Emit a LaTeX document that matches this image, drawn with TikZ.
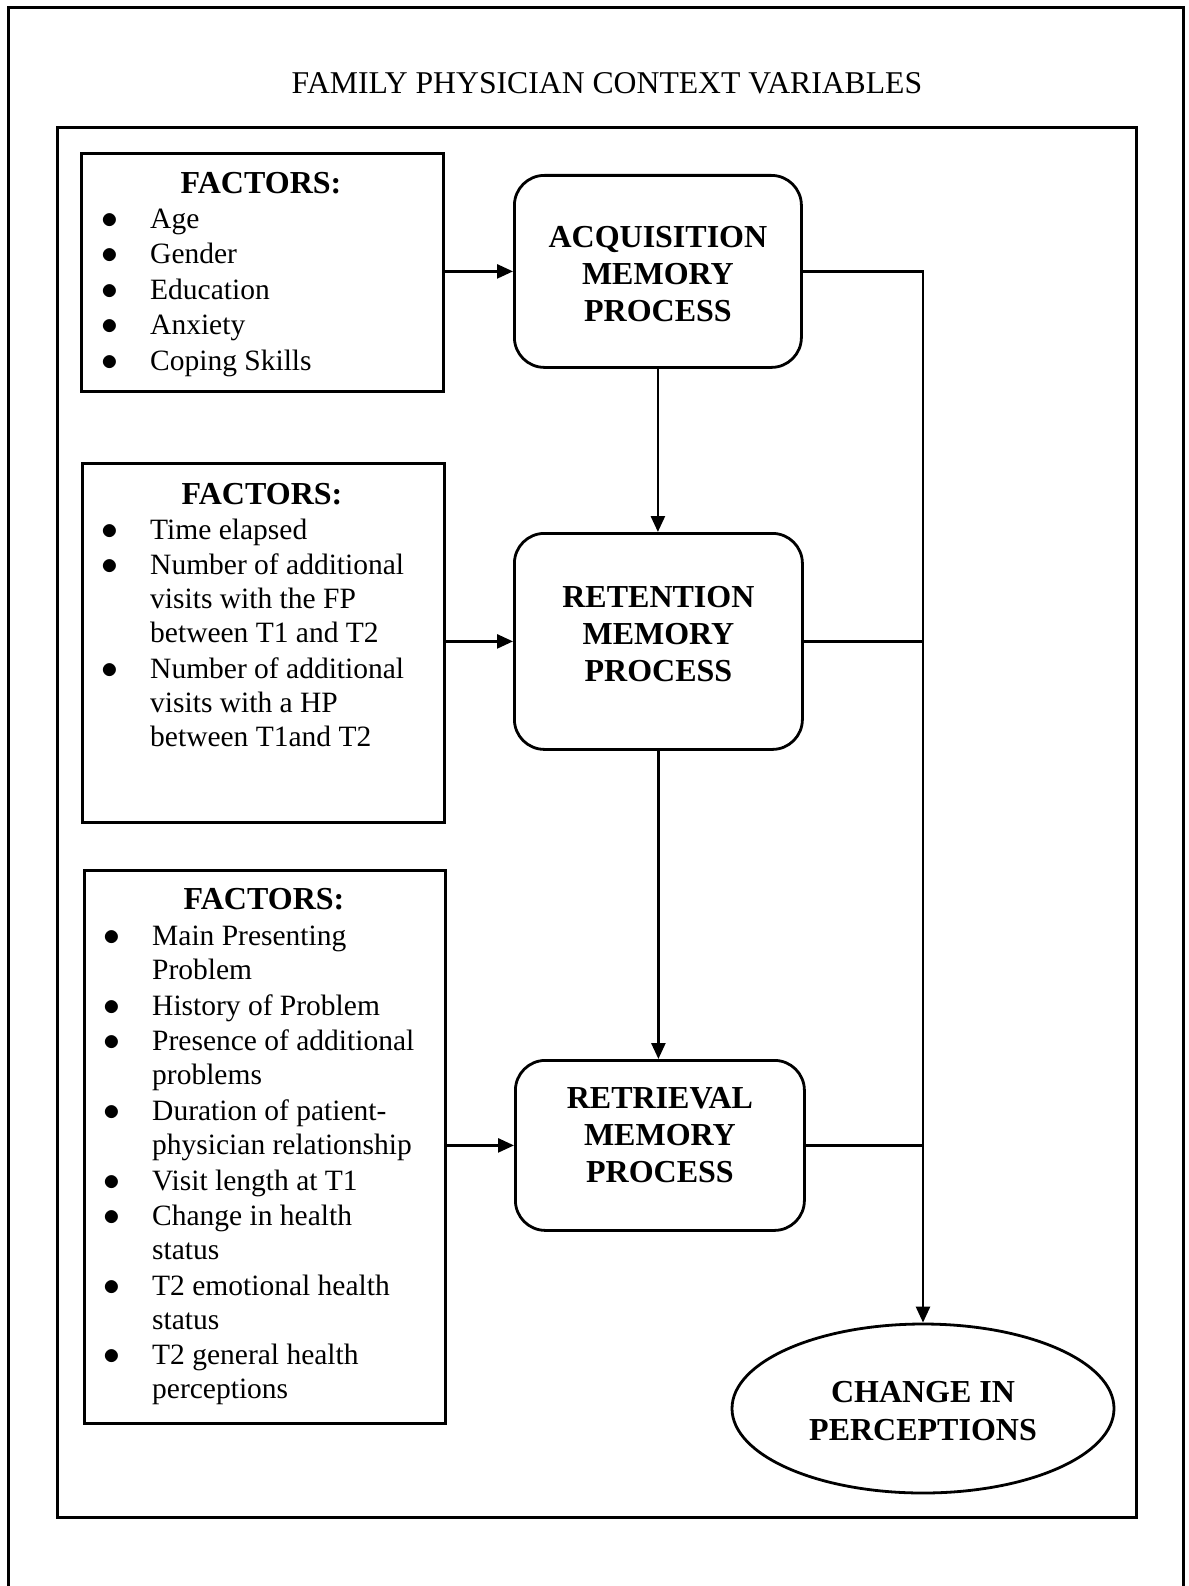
\documentclass[tikz,border=0pt]{standalone}
\usepackage{fontspec}
\setmainfont{Liberation Serif}
\usetikzlibrary{arrows.meta,shapes.geometric}
% list bullet, a little larger than the plain math bullet
\newcommand{\itembullet}{\scalebox{1.35}{$\bullet$}}
\begin{document}
\begin{tikzpicture}[x=1pt,y=-1pt,
  frameline/.style={line width=3pt},
  factorbox/.style={draw, line width=2.9pt, inner sep=0pt, anchor=north west},
  heading/.style={font=\fontsize{32}{37}\selectfont\bfseries, inner sep=0pt, anchor=base},
  itemlist/.style={font=\fontsize{29.5}{34}\selectfont, inner sep=0pt, anchor=base west},
  process/.style={draw, rounded corners=30pt, line width=2.8pt, inner sep=0pt, anchor=north west},
  proclabel/.style={align=center, inner sep=0pt, font=\fontsize{32}{37}\selectfont\bfseries},
  outcome/.style={draw, ellipse, line width=2.8pt, align=center, inner sep=0pt,
    font=\fontsize{32}{38}\selectfont\bfseries},
  conn/.style={line width=2.6pt},
  arr/.style={conn, -{Triangle[length=16pt,width=14pt]}},
]
\useasboundingbox (0,0) rectangle (1188,1586);

% outer page frame (open at the bottom) and inner context frame
\draw[frameline] (8,1586) -- (8,8) -- (1183,8) -- (1183,1586);
\draw[frameline] (57,128) rectangle (1136,1517);
\node[font=\fontsize{31.7}{36}\selectfont, inner sep=0pt, anchor=base] (title) at (607,94)
  {FAMILY PHYSICIAN CONTEXT VARIABLES};

% factor boxes
\node[factorbox, minimum width=362pt, minimum height=238pt] (f1) at (80,152) {};
\node[factorbox, minimum width=362pt, minimum height=359pt] (f2) at (81,462) {};
\node[factorbox, minimum width=361pt, minimum height=553pt] (f3) at (83,869) {};

\node[heading] (h1) at (261,194) {FACTORS:};
\node[heading] (h2) at (262,504.5) {FACTORS:};
\node[heading] (h3) at (264,909) {FACTORS:};

\node[itemlist] (l1) at (101,228.5) {%
  \begin{tabular}[t]{@{}p{49pt}@{}l@{}}
  \itembullet & Age\\[1.5pt]
  \itembullet & Gender\\[1.5pt]
  \itembullet & Education\\[1.5pt]
  \itembullet & Anxiety\\[1.5pt]
  \itembullet & Coping Skills
  \end{tabular}};

\node[itemlist] (l2) at (101,539) {%
  \begin{tabular}[t]{@{}p{49pt}@{}l@{}}
  \itembullet & Time elapsed\\[1.5pt]
  \itembullet & Number of additional\\
              & visits with the FP\\
              & between T1 and T2\\[1.5pt]
  \itembullet & Number of additional\\
              & visits with a HP\\
              & between T1and T2
  \end{tabular}};

\node[itemlist] (l3) at (103,945.6) {%
  \begin{tabular}[t]{@{}p{49pt}@{}l@{}}
  \itembullet & Main Presenting\\
              & Problem\\[1.8pt]
  \itembullet & History of Problem\\[1.5pt]
  \itembullet & Presence of additional\\
              & problems\\[1.8pt]
  \itembullet & Duration of patient-\\
              & physician relationship\\[1.5pt]
  \itembullet & Visit length at T1\\[1.5pt]
  \itembullet & Change in health\\
              & status\\[1.5pt]
  \itembullet & T2 emotional health\\
              & status\\[1.5pt]
  \itembullet & T2 general health\\
              & perceptions
  \end{tabular}};

% memory processes
\node[process, minimum width=287pt, minimum height=192pt] (acq) at (513,174) {};
\node[process, minimum width=288pt, minimum height=216pt] (ret) at (513,532) {};
\node[process, minimum width=289pt, minimum height=170pt] (rtv) at (514,1059) {};
\node[proclabel] (acqtext) at ([yshift=-3pt]acq.center) {ACQUISITION\\MEMORY\\PROCESS};
\node[proclabel] (rettext) at ([yshift=7pt]ret.center) {RETENTION\\MEMORY\\PROCESS};
\node[proclabel] (rtvtext) at ([yshift=10pt]rtv.center) {RETRIEVAL\\MEMORY\\PROCESS};

% outcome
\node[outcome, minimum width=382pt, minimum height=169pt] (chg) at (923,1408.5) {};
\node[proclabel, font=\fontsize{32}{38}\selectfont\bfseries] (chgtext) at ([yshift=-3pt]chg.center)
  {CHANGE IN\\PERCEPTIONS};

% factor inputs
\draw[arr] (acq.west -| f1.east) -- (acq.west);
\draw[arr] (ret.west -| f2.east) -- (ret.west);
\draw[arr] (rtv.west -| f3.east) -- (rtv.west);

% process chain
\draw[arr] (acq.south) -- (ret.north -| acq.south);
\draw[arr] (ret.south) -- (rtv.north -| ret.south);

% each process feeds the outcome
\draw[conn] (ret.east) -- (ret.east -| chg.north);
\draw[conn] (rtv.east) -- (rtv.east -| chg.north);
\draw[arr] (acq.east) -- (acq.east -| chg.north) -- (chg.north);
\end{tikzpicture}
\end{document}
